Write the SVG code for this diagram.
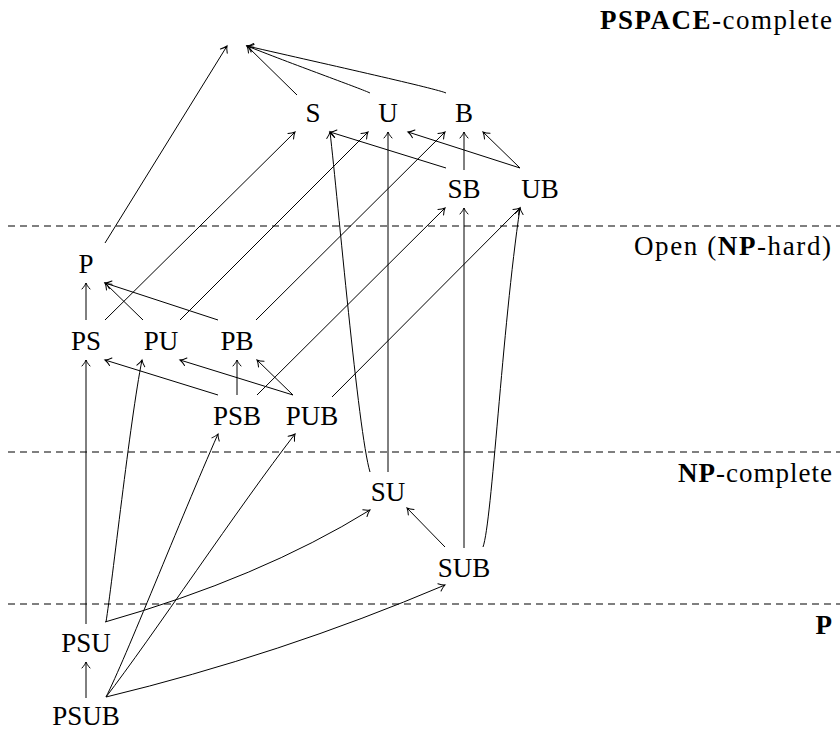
<svg xmlns="http://www.w3.org/2000/svg" width="840" height="731" viewBox="0 0 840 731">
  <style>
    .lbl { font-family: "Liberation Serif", "Times New Roman", serif; font-size: 27px; fill: #000; text-anchor: middle; }
    .cls { font-family: "Liberation Serif", "Times New Roman", serif; font-size: 27px; fill: #000; text-anchor: end; }
    .b { font-weight: bold; }
    .sep { stroke: #555; stroke-width: 1.3; stroke-dasharray: 7 5; fill: none; }
    .e { stroke: #000; stroke-width: 1; fill: none; marker-end: url(#tip); }
  </style>
  <defs>
    <marker id="tip" markerUnits="userSpaceOnUse" markerWidth="12" markerHeight="12" viewBox="-7 -6 9 12" refX="0" refY="0" orient="auto">
      <path d="M -6 -4 C -3.5 -1.7, -1.3 -0.5, 0 0 C -1.3 0.5, -3.5 1.7, -6 4" stroke="#000" stroke-width="1" fill="none" stroke-linecap="round"/>
    </marker>
  </defs>

  <!-- complexity class boundaries -->
  <g id="boundaries">
    <line class="sep" x1="8" y1="226" x2="840" y2="226"/>
    <line class="sep" x1="8" y1="452" x2="840" y2="452"/>
    <line class="sep" x1="8" y1="604" x2="840" y2="604"/>
  </g>

  <!-- class labels -->
  <g id="classes">
    <text class="cls" x="832" y="29" textLength="232" lengthAdjust="spacing"><tspan class="b">PSPACE</tspan>-complete</text>
    <text class="cls" x="831" y="255" textLength="197" lengthAdjust="spacing">Open (<tspan class="b">NP</tspan>-hard)</text>
    <text class="cls" x="832" y="482" textLength="154" lengthAdjust="spacing"><tspan class="b">NP</tspan>-complete</text>
    <text class="cls" x="832" y="634"><tspan class="b">P</tspan></text>
  </g>

  <!-- connectors -->
  <g id="edges">
    <!-- into the top node -->
    <path class="e" d="M 105 243 L 227 46"/>
    <path class="e" d="M 297 95 L 247 46"/>
    <path class="e" d="M 370 93 C 362 89, 300 67, 247 46"/>
    <path class="e" d="M 446 93 C 438 89, 330 65, 247 46"/>

    <!-- into S, U, B -->
    <path class="e" d="M 105 320 L 295 132"/>
    <path class="e" d="M 180 320 L 368 132"/>
    <path class="e" d="M 256 320 L 445 132"/>
    <path class="e" d="M 446 168 L 330 132"/>
    <path class="e" d="M 370 472 C 358 432, 338 200, 330 132"/>
    <path class="e" d="M 388 472 L 388 132"/>
    <path class="e" d="M 520 168 L 408 132"/>
    <path class="e" d="M 464 170 L 464 132"/>
    <path class="e" d="M 520 168 L 483 132"/>

    <!-- into SB, UB -->
    <path class="e" d="M 257 395 L 445 208"/>
    <path class="e" d="M 464 548 L 464 208"/>
    <path class="e" d="M 332 397 L 520 208"/>
    <path class="e" d="M 483 547 C 492 522, 502 330, 520 208"/>

    <!-- into P -->
    <path class="e" d="M 86 320 L 86 283"/>
    <path class="e" d="M 143 320 L 105 283"/>
    <path class="e" d="M 218 320 L 105 283"/>

    <!-- into PS, PU, PB -->
    <path class="e" d="M 86 624 L 86 360"/>
    <path class="e" d="M 218 395 L 105 360"/>
    <path class="e" d="M 106 622 C 112 585, 130 420, 142 360"/>
    <path class="e" d="M 293 395 L 180 360"/>
    <path class="e" d="M 237 395 L 237 360"/>
    <path class="e" d="M 293 395 L 257 360"/>

    <!-- into PSB, PUB -->
    <path class="e" d="M 106 697 C 125 660, 180 520, 218 434"/>
    <path class="e" d="M 106 697 C 150 640, 240 505, 295 434"/>

    <!-- into SU, SUB -->
    <path class="e" d="M 105 622 Q 260 578 370 510"/>
    <path class="e" d="M 445 547 L 407 508"/>
    <path class="e" d="M 106 697 Q 280 655 445 585"/>

    <!-- into PSU -->
    <path class="e" d="M 86 698 L 86 662"/>
  </g>

  <!-- nodes -->
  <g id="n-S"><text class="lbl" x="313" y="122">S</text></g>
  <g id="n-U"><text class="lbl" x="388" y="122">U</text></g>
  <g id="n-B"><text class="lbl" x="464" y="122">B</text></g>
  <g id="n-SB"><text class="lbl" x="464" y="198">SB</text></g>
  <g id="n-UB"><text class="lbl" x="540" y="198">UB</text></g>
  <g id="n-P"><text class="lbl" x="86" y="273">P</text></g>
  <g id="n-PS"><text class="lbl" x="86" y="350">PS</text></g>
  <g id="n-PU"><text class="lbl" x="161" y="350">PU</text></g>
  <g id="n-PB"><text class="lbl" x="237" y="350">PB</text></g>
  <g id="n-PSB"><text class="lbl" x="237" y="425">PSB</text></g>
  <g id="n-PUB"><text class="lbl" x="312" y="425">PUB</text></g>
  <g id="n-SU"><text class="lbl" x="388" y="501">SU</text></g>
  <g id="n-SUB"><text class="lbl" x="464" y="577">SUB</text></g>
  <g id="n-PSU"><text class="lbl" x="86" y="652">PSU</text></g>
  <g id="n-PSUB"><text class="lbl" x="86" y="725">PSUB</text></g>
</svg>
